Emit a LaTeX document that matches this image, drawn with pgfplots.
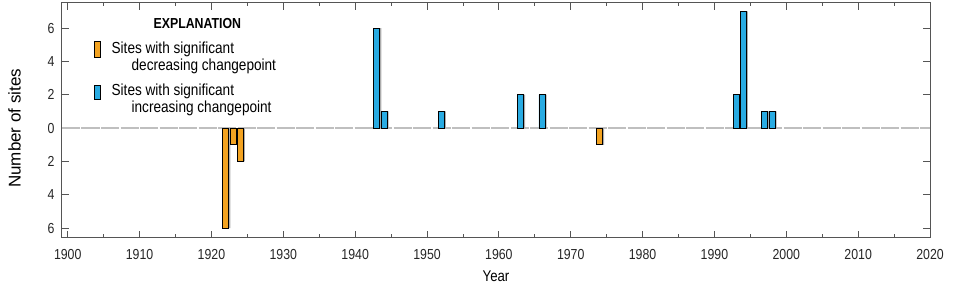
\documentclass[border=0pt]{standalone}
\usepackage{fontspec}
\setmainfont{Liberation Sans}[FakeStretch=0.85]
\newfontfamily\widefont{Liberation Sans}
\usepackage{pgfplots}
\usepackage{pgfplotstable}
\pgfplotsset{compat=1.18}
\definecolor{dec}{RGB}{243,163,33}
\definecolor{inc}{RGB}{41,171,226}
\definecolor{axgray}{RGB}{85,85,85}

\pgfplotstableread{
year n
1922 -6
1923 -1
1924 -2
1974 -1
}\dectable
\pgfplotstableread{
year n
1943 6
1944 1
1952 1
1963 2
1966 2
1993 2
1994 7
1997 1
1998 1
}\inctable

\begin{document}
\begin{tikzpicture}
\useasboundingbox (-62pt,-56.3pt) rectangle (896pt,237.7pt);
\begin{axis}[
  at={(0,0)}, anchor=south west,
  scale only axis, width=868pt, height=234.7pt,
  xmin=1899.2, xmax=2020, ymin=-6.57, ymax=7.5,
  xtick={1900,1910,...,2020},
  minor x tick num=1,
  ytick={-6,-4,...,6},
  yticklabel={\pgfmathparse{abs(\tick)}\pgfmathprintnumber{\pgfmathresult}},
  tick pos=both, tick align=inside,
  major tick length=7pt, minor tick length=3.5pt,
  axis line style={axgray, line width=1pt},
  tick style={axgray, line width=0.9pt},
  /pgf/number format/assume math mode=true,
  /pgf/number format/1000 sep={},
  ticklabel style={font=\fontsize{14.5}{16}\selectfont, text=black!85},
  xticklabel style={yshift=-8pt},
  yticklabel style={xshift=-4pt},
  xlabel={Year}, ylabel={Number of sites},
  xlabel style={font=\fontsize{15.5}{17}\selectfont, yshift=-4pt},
  ylabel style={font=\widefont\fontsize{17}{19}\selectfont, yshift=20pt, xshift=-8pt},
  legend style={draw=none, fill=none, at={(0.033,0.954)}, anchor=north west,
    font=\fontsize{16}{17}\selectfont, cells={anchor=west, align=left},
    row sep=8pt, column sep=9pt},
  legend cell align=left,
]
\draw[gray!50, line width=1.6pt, dash pattern=on 18pt off 1.5pt] (axis cs:1899.2,0) -- (axis cs:2020,0);

\addlegendimage{empty legend}
\addlegendentry{\hspace{42pt}{\fontsize{14.5}{16}\selectfont\textbf{EXPLANATION}}}

\addplot[ybar, bar width=6pt, bar shift=1.6pt, fill=gray!65, draw=none, forget plot] table[x=year,y=n] {\dectable};
\addplot[ybar, bar width=6pt, bar shift=1.6pt, fill=gray!65, draw=none, forget plot] table[x=year,y=n] {\inctable};

\addplot[ybar, bar width=6pt, bar shift=0pt, fill=dec, draw=black, line width=0.8pt,
  legend image code/.code={\draw[fill=dec, draw=black, line width=0.8pt] (0pt,-1pt) rectangle (6pt,15pt);}]
  table[x=year,y=n] {\dectable};
\addlegendentry{Sites with significant\\\hspace{20pt}decreasing changepoint}

\addplot[ybar, bar width=6pt, bar shift=0pt, fill=inc, draw=black, line width=0.8pt,
  legend image code/.code={\draw[fill=inc, draw=black, line width=0.8pt] (0pt,-1pt) rectangle (6pt,13pt);}]
  table[x=year,y=n] {\inctable};
\addlegendentry{Sites with significant\\\hspace{20pt}increasing changepoint}
\end{axis}
\end{tikzpicture}
\end{document}
